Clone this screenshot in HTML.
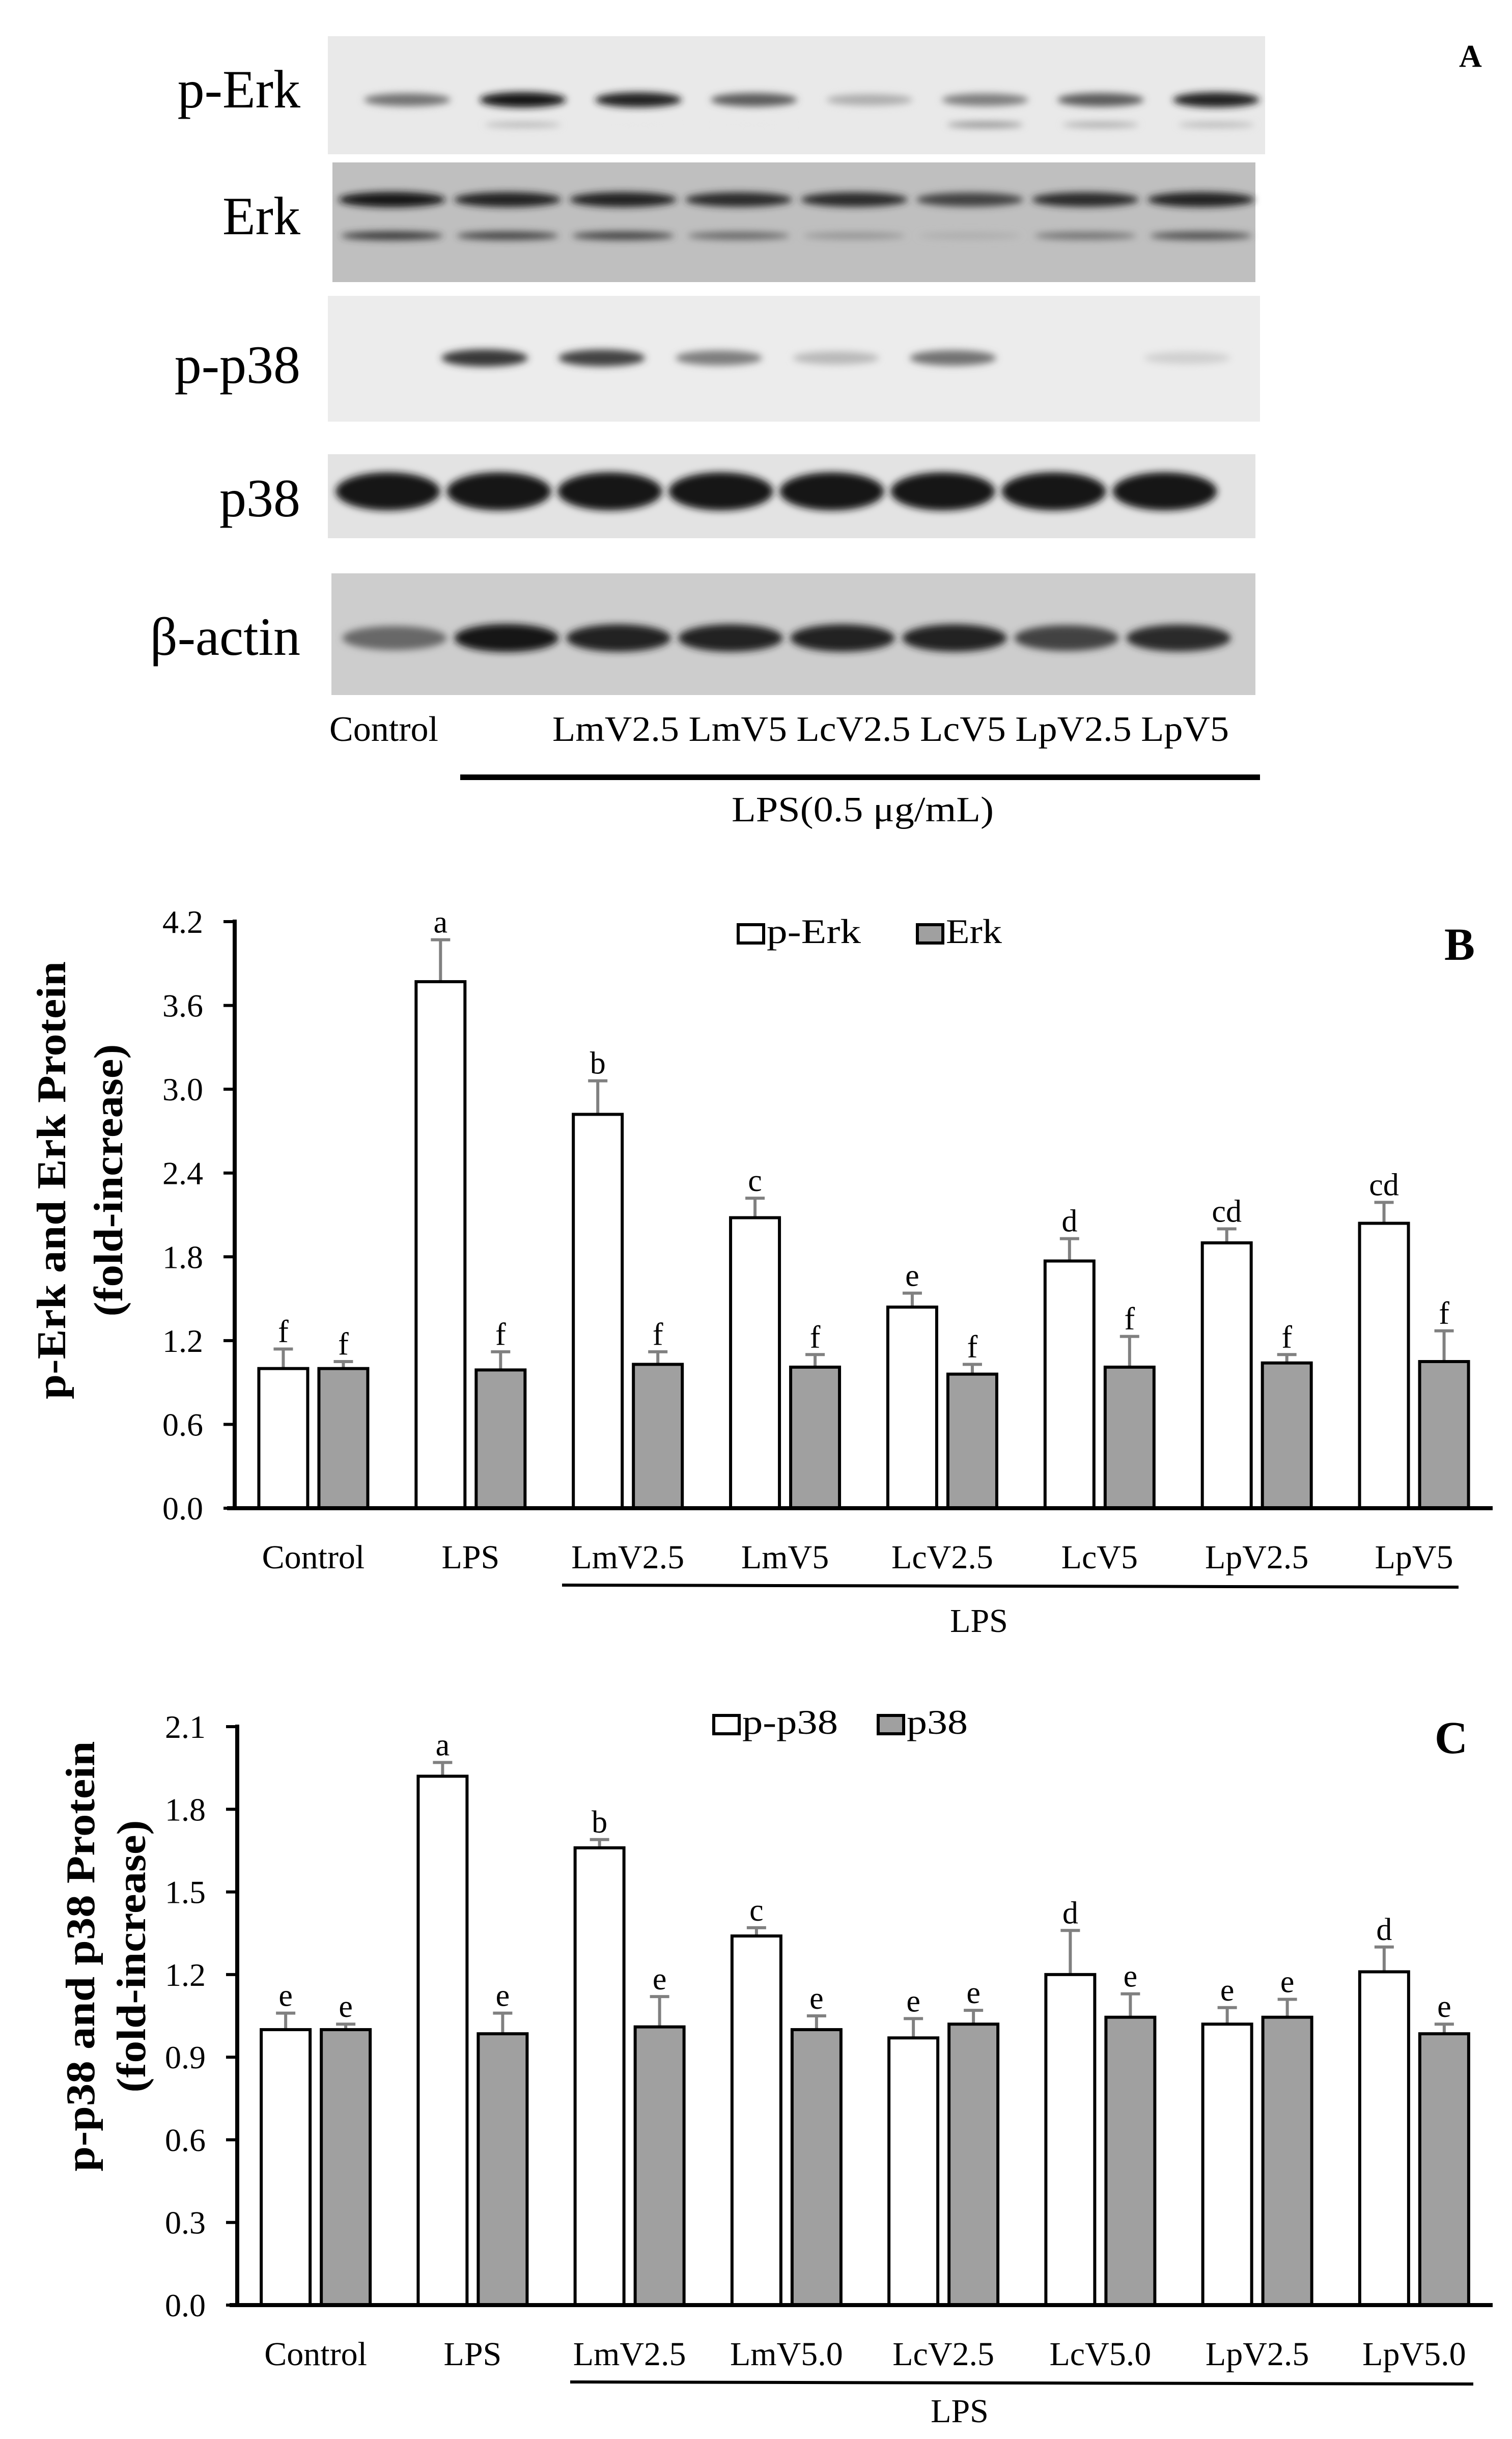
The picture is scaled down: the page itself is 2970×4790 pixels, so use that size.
<!DOCTYPE html>
<html><head><meta charset="utf-8"><title>Erk and p38 western blot with fold-increase bar charts</title>
<style>
html,body{margin:0;padding:0;background:#fff;}
svg{display:block;}
text{font-family:"Liberation Serif",serif;fill:#000;}
</style></head>
<body>
<svg id="fig" width="2970" height="4790" viewBox="0 0 2970 4790" xmlns="http://www.w3.org/2000/svg">
<defs>
<filter id="blur" x="-50%" y="-200%" width="200%" height="500%"><feGaussianBlur stdDeviation="7"/></filter>
</defs>
<g id="panelA">
<rect x="644" y="71" width="1841" height="232" fill="#e9e9e9"/>
<rect x="653" y="319" width="1813" height="235" fill="#bfbfbf"/>
<rect x="644" y="581" width="1831" height="247" fill="#ececec"/>
<rect x="644" y="892" width="1822" height="165" fill="#e3e3e3"/>
<rect x="651" y="1126" width="1815" height="239" fill="#cdcdcd"/>
<g id="bands" filter="url(#blur)"></g>
<g font-size="106" text-anchor="end">
<text x="590" y="211">p-Erk</text>
<text x="590" y="460">Erk</text>
<text x="590" y="752">p-p38</text>
<text x="590" y="1014">p38</text>
<text x="590" y="1286">β-actin</text>
</g>
<g font-size="70">
<text x="647" y="1455" textLength="214" lengthAdjust="spacingAndGlyphs">Control</text>
<text x="1085" y="1455" textLength="1329" lengthAdjust="spacingAndGlyphs">LmV2.5 LmV5 LcV2.5 LcV5 LpV2.5 LpV5</text>
</g>
<rect x="904" y="1521" width="1571" height="11" fill="#000"/>
<text x="1437" y="1613" font-size="70" textLength="515" lengthAdjust="spacingAndGlyphs">LPS(0.5 μg/mL)</text>
<text x="2866" y="131" font-size="62" font-weight="bold">A</text>
</g>
<g id="chartB"></g>
<g id="chartC"></g>
</svg>
<script>
// ---------- Panel B data ----------
const catsB = ["Control","LPS","LmV2.5","LmV5","LcV2.5","LcV5","LpV2.5","LpV5"];
const pErk = [1.0, 3.77, 2.82, 2.08, 1.44, 1.77, 1.90, 2.04];
const pErkSD = [0.14, 0.30, 0.24, 0.14, 0.10, 0.16, 0.10, 0.15];
const erk = [1.0, 0.99, 1.03, 1.01, 0.96, 1.01, 1.04, 1.05];
const erkSD = [0.05, 0.13, 0.09, 0.09, 0.07, 0.22, 0.06, 0.22];
const pErkLetters = ["f","a","b","c","e","d","cd","cd"];
const erkLetters = ["f","f","f","f","f","f","f","f"];
const ticksB = ["0.0","0.6","1.2","1.8","2.4","3.0","3.6","4.2"];
// ---------- Panel C data ----------
const catsC = ["Control","LPS","LmV2.5","LmV5.0","LcV2.5","LcV5.0","LpV2.5","LpV5.0"];
const pp38 = [1.0, 1.92, 1.66, 1.34, 0.97, 1.20, 1.02, 1.21];
const pp38SD = [0.06, 0.05, 0.03, 0.03, 0.07, 0.16, 0.06, 0.09];
const p38 = [1.0, 0.985, 1.01, 1.0, 1.02, 1.045, 1.045, 0.985];
const p38SD = [0.02, 0.075, 0.11, 0.05, 0.05, 0.085, 0.065, 0.035];
const pp38Letters = ["e","a","b","c","e","d","e","d"];
const p38Letters = ["e","e","e","e","e","e","e","e"];
const ticksC = ["0.0","0.3","0.6","0.9","1.2","1.5","1.8","2.1"];
// ---------- Blot band intensities (0..1) ----------
const pErkBand = [0.6, 1, 0.95, 0.7, 0.35, 0.55, 0.7, 0.95];
const pErkLower = [0, 0.3, 0.1, 0.1, 0, 0.45, 0.35, 0.3];
const erkUpper = [1, 0.95, 0.95, 0.9, 0.9, 0.8, 0.9, 0.95];
const erkLower = [0.85, 0.8, 0.8, 0.65, 0.45, 0.35, 0.6, 0.75];
const pp38Band = [0, 0.85, 0.8, 0.55, 0.3, 0.6, 0, 0.2];
const p38Band = [1, 1, 1, 1, 1, 1, 1, 1];
const actinBand = [0.65, 1, 0.95, 0.95, 0.95, 0.95, 0.8, 0.9];

const NS = "http://www.w3.org/2000/svg";
function mk(tag, attrs, parent){
  const e = document.createElementNS(NS, tag);
  for (const k in attrs) e.setAttribute(k, attrs[k]);
  parent.appendChild(e); return e;
}

const bandsG = document.getElementById('bands');
function drawBands(vals, x0, step, cy, w, h, name){
  vals.forEach((v,i)=>{
    if (v <= 0) return;
    const g = Math.round(255*(1-v*0.92));
    const e = mk('ellipse', {cx: x0+step*i, cy: cy, rx: w/2, ry: h/2*(0.6+0.4*v), fill: `rgb(${g},${g},${g})`}, bandsG);
    
    
  });
}
drawBands(pErkBand, 800, 227, 196, 170, 30, 'p-erk-band');
drawBands(pErkLower, 800, 227, 245, 150, 16, 'p-erk-lower-band');
drawBands(erkUpper, 770, 227, 392, 210, 30, 'erk-upper-band');
drawBands(erkLower, 770, 227, 463, 200, 18, 'erk-lower-band');
drawBands(pp38Band, 722, 230, 703, 170, 36, 'p-p38-band');
drawBands(p38Band, 762, 218, 965, 205, 75, 'p38-band');
drawBands(actinBand, 775, 220, 1253, 205, 55, 'beta-actin-band');

function drawChart(gid, c){
  const g = document.getElementById(gid);
  const yScale = v => c.y0 - (v / c.ymax) * (c.y0 - c.ytop);
  const band = (c.xEnd - c.axisX) / c.cats.length;
  const cx = i => c.axisX + band*(i+0.5);
  c.ticks.forEach(t=>{
    const y = yScale(parseFloat(t));
    const l = mk('line', {x1:c.axisX-22, x2:c.axisX, y1:y, y2:y, stroke:'#000','stroke-width':6}, g);
    
    
    const tx = mk('text', {x:c.axisX-62, y:y+22, 'font-size':64, 'text-anchor':'end'}, g);
    tx.textContent = t;
    
    
  });
  const series = [
    {vals:c.s1, sd:c.s1sd, lets:c.l1, fill:'#ffffff', off:-59, name:c.n1},
    {vals:c.s2, sd:c.s2sd, lets:c.l2, fill:'#a0a0a0', off:59, name:c.n2}
  ];
  series.forEach(s=>{
    s.vals.forEach((v,i)=>{
      const x = cx(i) + s.off;
      const top = yScale(v);
      const etop = yScale(v + s.sd[i]);
      const el = mk('line', {x1:x, x2:x, y1:top, y2:etop, stroke:'#808080','stroke-width':6}, g);
      
      
      const cap = mk('line', {x1:x-19, x2:x+19, y1:etop, y2:etop, stroke:'#808080','stroke-width':6}, g);
      
      
      const r = mk('rect', {x:x-48, y:top, width:96, height:c.y0-top, fill:s.fill, stroke:'#000','stroke-width':6}, g);
      
      
      const lt = mk('text', {x:x, y:etop-14, 'font-size':62, 'text-anchor':'middle'}, g);
      lt.textContent = s.lets[i];
      
      
    });
  });
  const ya = mk('line', {x1:c.axisX, x2:c.axisX, y1:c.ytop-4, y2:c.y0, stroke:'#000','stroke-width':8}, g);
  
  
  const xa = mk('line', {x1:c.axisX-15, x2:c.xEnd, y1:c.y0, y2:c.y0, stroke:'#000','stroke-width':8}, g);
  
  
  c.cats.forEach((t,i)=>{
    const tx = mk('text', {x:cx(i), y:c.labY, 'font-size':66, 'text-anchor':'middle'}, g);
    tx.textContent = t;
    
    
  });
  const ul = mk('line', {x1:c.lineX1, x2:c.lineX2, y1:c.lineY, y2:c.lineY+4, stroke:'#000','stroke-width':6}, g);
  
  
  const lps = mk('text', {x:c.lpsX, y:c.lpsY, 'font-size':66, 'text-anchor':'middle'}, g);
  lps.textContent = 'LPS';
  
  
  const t1 = mk('text', {x:0, y:0, 'font-size':80, 'font-weight':'bold', 'text-anchor':'middle', textLength:c.t1len, lengthAdjust:'spacingAndGlyphs', transform:`translate(${c.t1x},${c.tcy}) rotate(-90)`}, g);
  t1.textContent = c.title1;
  
  
  const t2 = mk('text', {x:0, y:0, 'font-size':80, 'font-weight':'bold', 'text-anchor':'middle', textLength:c.t2len, lengthAdjust:'spacingAndGlyphs', transform:`translate(${c.t2x},${c.tcy}) rotate(-90)`}, g);
  t2.textContent = '(fold-increase)';
  
  
  const lb1 = mk('rect', {x:c.lg1x, y:c.lgy-36, width:50, height:36, fill:'#fff', stroke:'#000','stroke-width':6}, g);
  
  
  const lt1 = mk('text', {x:c.lg1x+56, y:c.lgy, 'font-size':68, textLength:c.lg1w, lengthAdjust:'spacingAndGlyphs'}, g);
  lt1.textContent = c.n1;
  
  
  const lb2 = mk('rect', {x:c.lg2x, y:c.lgy-36, width:50, height:36, fill:'#a0a0a0', stroke:'#000','stroke-width':6}, g);
  
  
  const lt2 = mk('text', {x:c.lg2x+56, y:c.lgy, 'font-size':68, textLength:c.lg2w, lengthAdjust:'spacingAndGlyphs'}, g);
  lt2.textContent = c.n2;
  
  
  const pl = mk('text', {x:c.letX, y:c.letY, 'font-size':90, 'font-weight':'bold'}, g);
  pl.textContent = c.letter;
  
  
}

drawChart('chartB', {
  cats:catsB, s1:pErk, s1sd:pErkSD, s2:erk, s2sd:erkSD, l1:pErkLetters, l2:erkLetters,
  n1:'p-Erk', n2:'Erk', ticks:ticksB, ymax:4.2,
  axisX:461, xEnd:2932, y0:2962, ytop:1810, labY:3080,
  lineX1:1104, lineX2:2865, lineY:3113, lpsX:1923, lpsY:3205,
  title1:'p-Erk and Erk Protein', t1x:128, t2x:240, tcy:2318, t1len:860, t2len:535,
  lg1x:1450, lg2x:1802, lgy:1852, lg1w:185, lg2w:110,
  letter:'B', letX:2837, letY:1885
});
drawChart('chartC', {
  cats:catsC, s1:pp38, s1sd:pp38SD, s2:p38, s2sd:p38SD, l1:pp38Letters, l2:p38Letters,
  n1:'p-p38', n2:'p38', ticks:ticksC, ymax:2.1,
  axisX:466, xEnd:2932, y0:4527, ytop:3391, labY:4645,
  lineX1:1120, lineX2:2894, lineY:4678, lpsX:1885, lpsY:4757,
  title1:'p-p38 and p38 Protein', t1x:185, t2x:285, tcy:3842, t1len:845, t2len:535,
  lg1x:1402, lg2x:1725, lgy:3405, lg1w:188, lg2w:120,
  letter:'C', letX:2818, letY:3443
});
</script>
</body></html>
